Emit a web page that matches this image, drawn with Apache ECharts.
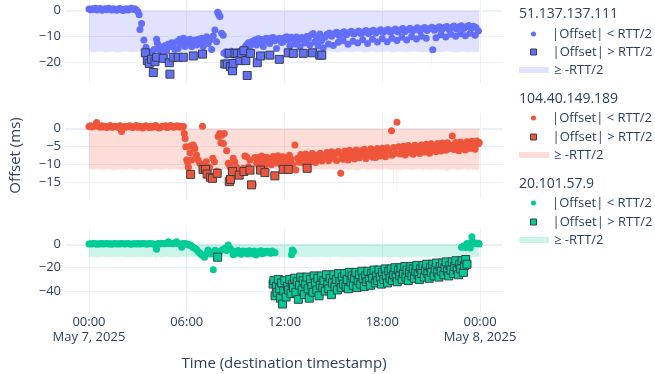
<!DOCTYPE html>
<html><head><meta charset="utf-8">
<script src="https://cdn.jsdelivr.net/npm/echarts@6/dist/echarts.min.js"></script>
<style>html,body{margin:0;padding:0;background:#fff}#c{width:655px;height:374px}</style>
</head><body><div id="c"></div><script>
// ---------- DATA (time in hours since 2025-05-07 00:00, offset in ms) ----------
const hosts = ['51.137.137.111', '104.40.149.189', '20.101.57.9'];
const legendLabels = ['|Offset| < RTT/2', '|Offset| > RTT/2', '\u2265 -RTT/2'];

const host1Inside = [
[0.0,0.6],[0.1,0.4],[0.2,0.7],[0.3,0.5],[0.4,0.9],[0.5,0.3],[0.6,0.6],[0.7,0.8],[0.8,0.2],[0.9,0.5],[1.0,0.7],[1.1,0.4],[1.2,0.9],[1.3,0.6],[1.4,0.3],[1.5,0.7],[1.6,0.5],[1.7,0.2],[1.8,0.6],[1.9,0.8],[2.0,0.4],[2.1,0.1],[2.2,0.5],[2.3,0.7],[2.4,0.3],[2.5,0.6],[2.6,0.9],[2.7,0.5],[2.8,0.7],[2.9,0.4],[3.0,-0.3],[3.08,-1.6],
[3.13,-7.2],[3.23,-4.9],[3.37,-11.3],[3.5,-14.1],[3.58,-15.4],[3.74,-16.4],[3.85,-15.8],[4.0,-14.9],[4.15,-11.0],[4.19,-12.3],[4.3,-13.6],[4.36,-15.1],[4.45,-14.2],[4.56,-15.8],[4.66,-13.5],[4.76,-15.4],[4.86,-12.9],[4.97,-13.8],[5.07,-12.3],[5.17,-12.9],[5.27,-14.8],[5.38,-11.9],[5.48,-14.5],[5.58,-11.0],[5.68,-12.8],[5.79,-10.6],[5.89,-13.8],[5.99,-11.3],[6.09,-12.6],[6.2,-11.0],[6.3,-13.8],[6.4,-11.9],[6.5,-11.3],[6.61,-13.2],[6.71,-11.0],[6.81,-12.3],[6.91,-10.6],[7.01,-13.8],[7.12,-11.5],[7.22,-10.0],[7.32,-12.6],[7.42,-11.3],[7.53,-14.9],[7.63,-9.7],[7.73,-7.4],[7.83,-11.9],[7.9,-0.6],[7.95,-1.2],[8.0,-1.9],[8.04,-2.2],[8.14,-8.7],[8.24,-9.4],
[8.28,-16.4],[8.4,-15.8],[8.45,-17.1],[8.55,-16.0],[8.65,-16.2],[8.75,-15.6],[8.85,-17.1],[8.95,-16.1],[9.05,-15.8],[9.16,-16.7],[9.3,-15.5],[9.47,-15.1],[9.57,-14.0],[9.67,-13.2],[9.78,-12.3],[9.88,-13.6],[9.98,-11.9],[10.08,-12.8],[10.18,-11.3],[10.29,-13.2],[10.39,-10.8],[10.49,-11.0],[10.6,-12.1],[10.7,-13.8],[10.8,-10.9],[10.9,-10.6],[11.0,-11.8],[11.1,-12.6],[11.2,-10.5],[11.31,-10.3],[11.41,-11.6],[11.51,-14.5],[11.61,-10.8],[11.72,-10.6],[11.82,-12.2],[11.92,-11.9],[12.02,-10.4],[12.13,-10.0],[12.23,-11.2],[12.33,-13.5],[12.43,-10.2],[12.54,-10.9],[12.64,-12.8],[12.74,-10.1],[12.84,-11.4],[12.95,-13.9],[13.05,-10.3],[13.15,-11.0],[13.25,-12.4],[13.36,-9.9],[13.46,-10.7],[13.56,-13.2],[13.66,-9.2],[13.76,-8.8],[13.86,-12.0],[13.97,-10.4],[14.07,-13.6],[14.17,-9.0],[14.27,-11.5],[14.38,-14.3],[14.48,-10.2],
[14.6,-9.2],[14.75,-8.6],[14.9,-9.8],[15.05,-8.9],[15.2,-8.3],[15.35,-9.5],[15.5,-8.7],[15.65,-8.1],[15.8,-9.3],[15.95,-8.5],[16.1,-7.9],[16.25,-9.0],[16.4,-8.4],[16.55,-7.8],[16.7,-8.9],[16.85,-8.2],[17.0,-7.6],[17.15,-8.8],[17.3,-8.0],[17.45,-7.5],[17.6,-8.6],[17.75,-7.9],[17.9,-7.3],[18.05,-8.4],[18.2,-7.7],[18.35,-7.2],[18.5,-8.3],[18.65,-7.6],[18.8,-7.0],[18.95,-8.1],[19.1,-7.4],[19.25,-6.9],[19.4,-8.0],[19.55,-7.3],[19.7,-6.8],[19.85,-7.9],[20.0,-7.2],[20.15,-6.6],[20.3,-7.7],[20.45,-7.0],[20.6,-6.5],[20.75,-7.6],[20.9,-6.9],[21.05,-6.4],[21.2,-7.5],[21.35,-6.8],[21.5,-6.2],[21.65,-7.3],[21.8,-6.6],[21.95,-6.1],[22.1,-7.2],[22.25,-6.5],[22.4,-5.9],[22.55,-7.0],[22.7,-6.3],[22.85,-5.8],[23.0,-6.9],[23.15,-6.2],[23.3,-5.7],[23.45,-6.7],[23.6,-6.0],[23.75,-6.5],[23.9,-7.8],
[14.7,-12.8],[15.0,-13.4],[15.3,-12.1],[15.6,-11.5],[15.9,-12.9],[16.2,-11.8],[16.5,-12.4],[16.8,-11.2],[17.1,-12.6],[17.4,-11.0],[17.7,-12.0],[18.0,-10.8],[18.3,-11.9],[18.6,-10.6],[18.9,-11.5],[19.2,-10.2],[19.5,-11.3],[19.8,-10.0],[20.1,-10.9],[20.4,-9.8],[20.7,-10.6],[21.1,-15.0],[21.3,-10.4],[21.6,-9.3],[21.9,-10.1],[22.2,-9.1],[22.5,-9.8],[22.8,-8.9],[23.1,-9.6],[23.4,-8.7],[23.7,-9.4]
];
const host1Outside = [
[3.46,-16.2],[3.58,-19.2],[3.7,-20.3],[3.84,-18.7],[3.95,-23.8],[4.05,-19.6],[4.15,-17.9],[4.56,-18.3],[4.93,-20.0],[4.97,-24.4],[5.17,-17.9],[5.48,-17.9],[5.79,-17.9],[6.4,-17.4],[6.97,-16.7],
[8.34,-20.5],[8.49,-20.5],[8.61,-16.4],[8.69,-21.5],[8.81,-23.1],[8.85,-20.3],[8.96,-16.4],[9.1,-16.4],[9.26,-19.2],[9.37,-16.4],[9.51,-15.4],[9.63,-19.2],[9.71,-24.9],[9.92,-16.4],[10.33,-20.0],[10.53,-17.4],[11.1,-17.1],[11.68,-18.7],[12.23,-16.2],[12.54,-16.4],[13.15,-16.4],[13.72,-16.2],[14.17,-17.1],[14.29,-17.1]
];
const host1Band = [
[0,-15.7],[0.25,-16.0],[0.5,-15.8],[0.75,-15.6],[1,-16.1],[1.25,-15.9],[1.5,-15.7],[1.75,-16.2],[2,-15.8],[2.25,-15.6],[2.5,-15.9],[2.75,-16.0],[3,-15.7],[3.25,-15.9],[3.5,-16.1],[3.75,-15.8],[4,-15.6],[4.25,-16.0],[4.5,-15.9],[4.75,-15.7],[5,-16.2],[5.25,-15.8],[5.5,-15.6],[5.75,-15.9],[6,-16.0],[6.25,-15.7],[6.5,-15.8],[6.75,-16.1],[7,-15.9],[7.25,-15.6],[7.5,-15.8],[7.75,-16.0],[8,-15.7],[8.25,-15.9],[8.5,-16.1],[8.75,-15.8],[9,-15.6],[9.25,-16.0],[9.5,-15.9],[9.75,-15.7],[10,-16.1],[10.25,-15.8],[10.5,-15.6],[10.75,-15.9],[11,-16.0],[11.25,-15.7],[11.5,-15.8],[11.75,-16.2],[12,-15.9],[12.25,-15.7],[12.5,-15.8],[12.75,-16.0],[13,-15.6],[13.25,-15.9],[13.5,-16.1],[13.75,-15.8],[14,-15.7],[14.25,-16.0],[14.5,-15.9],[14.75,-15.6],[15,-15.8],[15.25,-16.1],[15.5,-15.9],[15.75,-15.7],[16,-16.0],[16.25,-15.8],[16.5,-15.6],[16.75,-15.9],[17,-16.1],[17.25,-15.7],[17.5,-15.8],[17.75,-16.0],[18,-15.9],[18.25,-15.6],[18.5,-15.8],[18.75,-16.1],[19,-15.7],[19.25,-15.9],[19.5,-16.0],[19.75,-15.8],[20,-15.6],[20.25,-15.9],[20.5,-16.1],[20.75,-15.8],[20.97,-15.9],[21.0,-22.5],[21.03,-15.8],[21.25,-15.7],[21.5,-16.0],[21.75,-15.9],[22,-15.6],[22.25,-15.8],[22.5,-16.1],[22.75,-15.9],[23,-15.7],[23.25,-16.0],[23.5,-15.8],[23.75,-15.9],[23.95,-16.0]
];

const host2Inside = [
[0.0,0.6],[0.1,0.8],[0.2,0.5],[0.3,0.7],[0.4,1.0],[0.47,1.7],[0.6,0.6],[0.7,0.4],[0.8,0.8],[0.9,0.5],[1.0,0.7],[1.1,0.3],[1.2,0.6],[1.3,0.9],[1.4,0.4],[1.5,0.5],[1.6,0.7],[1.7,0.6],[1.8,0.3],[1.9,0.8],[2.0,-0.8],[2.1,0.5],[2.2,0.6],[2.3,0.4],[2.4,0.7],[2.5,0.8],[2.6,0.5],[2.7,0.3],[2.8,0.6],[2.9,0.9],[3.0,0.4],[3.1,0.7],[3.2,0.5],[3.3,0.2],[3.4,0.6],[3.5,0.8],[3.6,0.5],[3.7,0.3],[3.8,0.7],[3.9,0.4],[4.0,0.6],[4.1,0.9],[4.2,0.5],[4.3,0.2],[4.4,0.4],[4.5,0.7],[4.6,0.6],[4.7,0.8],[4.8,0.3],[4.9,0.5],[5.0,0.9],[5.1,0.7],[5.2,0.4],[5.3,0.6],[5.4,0.8],[5.5,0.5],[5.6,0.7],[5.7,0.4],[5.8,0.6],
[5.85,-1.3],[5.9,-2.7],[5.95,-5.0],[6.0,-8.7],[6.05,-9.3],[6.1,-10.7],[6.2,-6.7],[6.25,-4.8],[6.3,-8.7],[6.4,-4.5],[6.5,-5.5],[6.6,-7.3],[6.7,-8.7],[6.8,-9.6],[6.97,0.7],[7.05,-10.6],[7.2,-9.2],[7.3,-11.2],[7.4,-10.7],[7.6,-8.2],[7.7,-9.2],[7.85,-11.8],[7.93,-2.2],[8.02,-1.3],[8.1,-3.9],[8.15,-1.8],[8.25,-4.1],[8.3,-1.3],[8.45,-6.1],[8.55,-9.6],[8.65,-10.6],[8.85,-8.2],[8.95,-9.2],[9.06,-10.7],[9.26,-11.5],[9.47,-11.0],[9.57,-7.6],[9.67,-7.8],[9.78,-10.6],[9.88,-8.7],[10.08,-15.6],[10.18,-8.0],[10.29,-9.6],
[10.4,-8.0],[10.5,-9.8],[10.6,-7.6],[10.7,-8.9],[10.8,-10.4],[10.9,-7.9],[11.0,-9.1],[11.1,-8.3],[11.2,-10.0],[11.3,-7.7],[11.4,-8.8],[11.5,-9.5],[11.6,-7.5],[11.7,-8.6],[11.8,-10.1],[11.9,-7.8],[12.0,-9.0],[12.1,-8.1],[12.2,-9.7],[12.3,-7.4],[12.4,-8.5],[12.5,-9.9],[12.64,-4.5],[12.7,-11.5],[12.8,-8.2],[12.9,-9.3],[13.0,-7.2],[13.1,-8.4],[13.2,-9.6],[13.3,-7.0],[13.4,-8.7],[13.5,-7.6],[13.6,-9.2],[13.7,-6.9],[13.8,-8.0],[13.9,-9.4],[14.0,-7.3],[14.1,-8.5],[14.2,-6.8],[14.3,-9.0],[14.4,-7.7],[14.5,-8.3],[14.6,-6.6],[14.7,-8.9],[14.8,-7.4],[14.9,-6.4],[15.0,-8.2],[15.1,-7.0],[15.2,-8.8],[15.3,-6.3],[15.45,-12.4],[15.5,-7.6],[15.6,-8.5],[15.7,-6.2],[15.8,-7.3],[15.9,-8.7],[16.0,-6.0],[16.1,-7.8],[16.2,-6.7],[16.3,-8.4],[16.4,-5.9],[16.5,-7.1],[16.6,-8.1],[16.7,-6.1],[16.8,-7.5],[16.9,-5.7],[17.0,-8.3],[17.1,-6.5],[17.2,-7.2],[17.3,-5.6],[17.4,-7.9],[17.5,-6.3],[17.6,-8.0],[17.7,-5.5],[17.8,-6.9],[17.9,-7.6],[18.0,-5.4],[18.1,-6.6],[18.2,-7.8],[18.3,-5.3],[18.4,-6.2],[18.57,-0.6],[18.6,-7.4],[18.7,-5.2],[18.8,-6.8],[18.9,1.8],[19.0,-5.0],[19.1,-7.0],[19.2,-6.0],[19.3,-4.9],[19.4,-7.3],[19.5,-5.6],[19.6,-4.7],[19.7,-6.6],[19.8,-5.3],[19.9,-7.1],[20.0,-4.6],[20.1,-6.3],[20.2,-5.1],[20.3,-6.9],[20.4,-4.5],[20.5,-5.8],[20.6,-6.5],[20.7,-4.3],[20.8,-5.5],[20.9,-6.8],[21.0,-4.2],[21.1,-5.9],[21.2,-4.8],[21.3,-6.4],[21.4,-4.1],[21.5,-5.4],[21.6,-6.2],[21.7,-4.0],[21.8,-5.0],[21.9,-6.0],[22.0,-3.9],[22.1,-5.6],[22.2,-4.6],[22.3,-2.0],[22.4,-5.8],[22.5,-3.8],[22.6,-4.9],[22.7,-6.1],[22.8,-3.7],[22.9,-5.2],[23.0,-4.4],[23.1,-5.9],[23.2,-3.6],[23.3,-4.8],[23.4,-5.5],[23.5,-3.5],[23.6,-4.5],[23.7,-5.7],[23.8,-3.4],[23.9,-4.2],[23.95,-3.8]
];
const host2Outside = [
[6.24,-12.7],[7.0,-11.3],[7.15,-11.3],[7.25,-12.6],[7.45,-13.5],[7.58,-13.8],[7.87,-12.4],[8.61,-14.7],[8.69,-14.1],[8.81,-11.9],[9.22,-12.9],[9.51,-11.9],[9.88,-11.5],[9.98,-15.6],[10.53,-11.5],[10.8,-12.2],[11.41,-13.1],[11.92,-11.3],[12.23,-11.3],[13.39,-11.0]
];
const host2Band = [
[0,-11.2],[0.25,-11.4],[0.5,-11.1],[0.75,-11.5],[1,-11.3],[1.25,-11.2],[1.5,-11.6],[1.75,-11.3],[1.97,-11.2],[2.0,-12.6],[2.03,-11.3],[2.25,-11.4],[2.5,-11.2],[2.75,-11.5],[3,-11.3],[3.25,-11.1],[3.5,-11.4],[3.75,-11.6],[4,-11.2],[4.25,-11.3],[4.5,-11.5],[4.75,-11.2],[5,-11.4],[5.25,-11.1],[5.5,-11.3],[5.75,-11.5],[6,-11.2],[6.25,-11.4],[6.5,-11.3],[6.75,-11.6],[7,-11.2],[7.25,-11.3],[7.5,-11.5],[7.75,-11.1],[8,-11.4],[8.25,-11.3],[8.5,-11.2],[8.75,-11.5],[9,-11.3],[9.25,-11.4],[9.5,-11.2],[9.75,-11.6],[10.12,-11.3],[10.15,-17.0],[10.18,-11.4],[10.5,-11.2],[10.75,-11.5],[11,-11.3],[11.25,-11.1],[11.5,-11.4],[11.75,-11.3],[12,-11.5],[12.25,-11.2],[12.5,-11.4],[12.75,-11.3],[13,-11.6],[13.25,-11.2],[13.5,-11.3],[13.75,-11.5],[14,-11.1],[14.25,-11.4],[14.5,-11.3],[14.75,-11.2],[15,-11.5],[15.25,-11.3],[15.43,-11.4],[15.46,-13.6],[15.49,-11.3],[15.75,-11.2],[16,-11.4],[16.25,-11.3],[16.5,-11.6],[16.75,-11.2],[17,-11.3],[17.25,-11.5],[17.5,-11.1],[17.75,-11.4],[18,-11.3],[18.25,-11.2],[18.5,-11.5],[18.67,-11.3],[18.7,-18.0],[18.73,-11.4],[18.87,-11.2],[18.9,-19.5],[18.93,-11.3],[19.25,-11.4],[19.5,-11.2],[19.75,-11.5],[20,-11.3],[20.25,-11.1],[20.5,-11.4],[20.75,-11.3],[21,-11.5],[21.25,-11.2],[21.5,-11.4],[21.75,-11.3],[22,-11.6],[22.25,-11.2],[22.5,-11.3],[22.75,-11.5],[23,-11.2],[23.25,-11.4],[23.5,-11.3],[23.75,-11.5],[23.95,-11.3]
];

const host3Inside = [
[0.0,0.3],[0.1,0.5],[0.2,0.2],[0.3,0.6],[0.4,0.4],[0.5,0.1],[0.6,0.5],[0.7,0.3],[0.8,0.7],[0.9,0.2],[1.0,0.4],[1.1,0.6],[1.2,0.3],[1.3,0.5],[1.4,0.1],[1.5,0.4],[1.6,0.6],[1.7,0.2],[1.8,0.5],[1.9,0.3],[2.0,0.7],[2.1,0.4],[2.2,0.2],[2.3,0.5],[2.4,0.6],[2.5,0.3],[2.6,0.1],[2.7,0.4],[2.8,0.5],[2.9,0.2],[3.0,0.6],[3.1,0.3],[3.2,0.4],[3.3,0.7],[3.4,0.5],[3.5,0.2],[3.6,0.3],[3.7,0.6],[3.8,0.4],[3.9,0.5],[4.0,0.1],[4.15,-4.2],[4.25,0.6],[4.35,0.3],[4.45,0.8],[4.55,0.5],[4.65,0.4],[4.78,1.2],[4.87,2.3],[4.95,0.6],[5.05,0.9],[5.15,0.4],[5.25,1.2],[5.38,2.3],[5.48,0.7],[5.58,0.3],[5.69,-2.5],[5.75,0.5],
[5.8,0.4],[5.9,0.8],[6.0,0.2],[6.1,-0.5],[6.2,-0.3],[6.3,-1.4],[6.4,-2.8],[6.5,-3.4],[6.6,-4.5],[6.7,-6.2],[6.8,-7.5],[6.9,-9.0],[7.0,-9.8],[7.1,-11.0],[7.2,-8.2],[7.3,-4.8],[7.4,-6.5],[7.5,-8.2],[7.63,-21.7],[7.75,-5.0],[7.85,-7.3],[8.05,-6.2],[8.2,-4.5],[8.35,-3.4],[8.45,-5.3],[8.55,-0.6],[8.65,-3.4],[8.75,-4.8],[8.85,-9.0],[8.95,-6.2],[9.05,-7.6],[9.15,-5.2],[9.25,-6.8],[9.35,-8.5],[9.45,-5.6],[9.55,-7.1],[9.65,-6.0],[9.75,-8.3],[9.85,-5.4],[9.95,-6.9],[10.05,-7.8],[10.15,-5.8],[10.25,-9.2],[10.35,-6.4],[10.45,-7.4],[10.55,-5.5],[10.65,-8.0],[10.75,-6.2],[10.85,-7.0],[10.95,-5.9],[11.05,-6.6],[11.15,-7.7],[11.25,-5.7],[11.35,-6.8],[11.42,-7.2],
[12.43,-9.0],[12.48,-4.8],[12.55,-6.2],
[22.86,-2.5],[23.0,-1.4],[23.1,-2.8],[23.2,0.8],[23.3,-0.8],[23.4,-3.2],[23.45,1.5],[23.5,6.5],[23.55,2.3],[23.6,0.5],[23.7,1.2],[23.8,0.6],[23.9,0.9],[23.95,0.3]
];
const host3Outside = [
[7.9,-11.0],
[11.3,-34],[11.35,-31],[11.42,-44],[11.5,-36],[11.55,-41],[11.62,-30],[11.7,-38],[11.75,-46],[11.82,-33],[11.88,-51],[11.95,-40],[12.02,-31],[12.1,-45],[12.18,-36],[12.25,-39],[12.32,-30],[12.4,-42],[12.48,-34],[12.55,-37],[12.62,-29],[12.7,-41],[12.78,-32],[12.85,-47],[12.92,-35],[13.0,-28],[13.08,-39],[13.15,-31],[13.22,-43],[13.3,-34],[13.38,-28],[13.45,-38],[13.52,-46],[13.6,-30],[13.68,-36],[13.75,-41],[13.82,-27],[13.9,-33],[13.98,-39],[14.05,-29],[14.12,-44],[14.2,-35],[14.28,-27],[14.35,-37],[14.42,-31],[14.5,-40],[14.58,-26],[14.65,-34],[14.72,-38],[14.8,-29],[14.88,-43],[14.95,-33],[15.02,-26],[15.1,-36],[15.18,-30],[15.25,-39],[15.32,-25],[15.4,-32],[15.48,-37],[15.55,-28],[15.62,-34],[15.7,-25],[15.78,-36],[15.85,-30],[15.92,-38],[16.0,-24],[16.08,-32],[16.15,-27],[16.22,-35],[16.3,-29],[16.38,-24],[16.45,-37],[16.52,-31],[16.6,-26],[16.68,-34],[16.75,-23],[16.82,-29],[16.9,-36],[16.98,-27],[17.05,-32],[17.12,-23],[17.2,-30],[17.28,-35],[17.35,-25],[17.42,-29],[17.5,-22],[17.58,-33],[17.65,-27],[17.72,-31],[17.8,-22],[17.88,-28],[17.95,-34],[18.02,-24],[18.1,-30],[18.18,-21],[18.25,-27],[18.32,-33],[18.4,-23],[18.48,-29],[18.55,-21],[18.62,-31],[18.7,-26],[18.78,-20],[18.85,-28],[18.92,-32],[19.0,-22],[19.08,-27],[19.15,-20],[19.22,-30],[19.3,-25],[19.38,-19],[19.45,-28],[19.52,-22],[19.6,-31],[19.68,-24],[19.75,-19],[19.82,-27],[19.9,-21],[19.98,-29],[20.05,-23],[20.12,-18],[20.2,-26],[20.28,-30],[20.35,-21],[20.42,-25],[20.5,-18],[20.58,-28],[20.65,-22],[20.72,-17],[20.8,-25],[20.88,-29],[20.95,-20],[21.02,-24],[21.1,-17],[21.18,-27],[21.25,-21],[21.32,-16],[21.4,-24],[21.48,-28],[21.55,-19],[21.62,-23],[21.7,-16],[21.78,-26],[21.85,-20],[21.92,-15],[22.0,-23],[22.08,-27],[22.15,-18],[22.22,-22],[22.3,-15],[22.38,-25],[22.45,-19],[22.52,-14],[22.6,-22],[22.68,-26],[22.75,-17],[22.82,-21],[22.9,-14],[22.98,-24],[23.05,-18],[23.12,-13],[23.2,-17]
];
const host3Band = [
[0,-10.8],[0.25,-10.6],[0.5,-11.0],[0.75,-10.7],[1,-10.9],[1.25,-10.6],[1.5,-11.1],[1.75,-10.8],[2,-10.7],[2.25,-11.0],[2.5,-10.6],[2.75,-10.9],[3,-10.8],[3.25,-11.1],[3.5,-10.7],[3.75,-10.9],[4.12,-10.8],[4.15,-14.5],[4.18,-10.7],[4.5,-11.0],[4.75,-10.6],[5,-10.9],[5.25,-10.8],[5.5,-11.1],[5.75,-10.7],[6,-10.9],[6.25,-10.6],[6.5,-11.0],[6.75,-10.8],[7,-10.7],[7.25,-11.1],[7.57,-10.8],[7.6,-26.0],[7.63,-10.9],[7.75,-10.7],[8,-11.0],[8.25,-10.6],[8.5,-10.9],[8.75,-10.8],[9,-11.1],[9.25,-10.7],[9.5,-10.9],[9.75,-10.6],[10,-11.0],[10.25,-10.8],[10.5,-10.7],[10.75,-11.1],[11,-10.9],[11.25,-10.6],[11.5,-10.8],[11.67,-10.9],[11.7,-14.0],[11.73,-10.8],[12,-11.0],[12.25,-10.7],[12.5,-10.9],[12.75,-10.6],[13,-11.1],[13.25,-10.8],[13.5,-10.7],[13.75,-11.0],[14,-10.9],[14.25,-10.6],[14.5,-10.8],[14.77,-11.0],[14.8,-21.5],[14.83,-10.7],[15,-10.9],[15.25,-10.6],[15.5,-11.1],[15.75,-10.8],[16,-10.7],[16.25,-11.0],[16.5,-10.9],[16.75,-10.6],[17,-10.8],[17.25,-11.1],[17.5,-10.7],[17.75,-10.9],[18,-10.8],[18.25,-10.6],[18.5,-11.0],[18.75,-10.7],[19,-10.9],[19.25,-11.1],[19.5,-10.8],[19.75,-10.6],[20,-10.9],[20.25,-10.7],[20.5,-11.0],[20.75,-10.8],[21,-10.6],[21.25,-10.9],[21.5,-11.1],[21.75,-10.7],[22,-10.8],[22.25,-11.0],[22.5,-10.6],[22.75,-10.9],[23,-10.8],[23.37,-10.7],[23.4,-14.5],[23.43,-10.9],[23.75,-10.8],[23.95,-10.7]
];

// ---------- CHART ----------
const insideSets = [host1Inside, host2Inside, host3Inside];
const outsideSets = [host1Outside, host2Outside, host3Outside];
const bandSets = [host1Band, host2Band, host3Band];
const colors = ['#636efa', '#EF553B', '#00cc96'];
const bandColors = ['rgba(99,110,250,0.2)', 'rgba(239,85,59,0.2)', 'rgba(0,204,150,0.2)'];
const yRanges = [[-27.8, 4.1, 3], [-19.25, 4.36, 4], [-58.7, 13.1, 4]];
const gridTops = [0, 113, 229];
const gridHeights = [83, 85, 84];
const legendTitleY = [16, 101, 186];
const legendItemY = [[34, 52, 70], [118, 137, 155], [203, 222, 240]];

const HOUR = 3600000;
const base = new Date(2025, 4, 7, 0, 0, 0).getTime();
const toPts = arr => arr.map(p => [base + Math.round(p[0] * HOUR), p[1]]);
const xMin = base - 1.47 * HOUR, xMax = base + 25.41 * HOUR;
const font = '"Open Sans", "Noto Sans", sans-serif';
const txt = '#2a3f5f';
const grid = '#ebf0f8';
const months = ['Jan','Feb','Mar','Apr','May','Jun','Jul','Aug','Sep','Oct','Nov','Dec'];
const pad2 = n => String(n).padStart(2, '0');
const minus = v => v < 0 ? '\u2212' + Math.abs(v) : String(v);

const nameMap = {};
const series = [], legends = [], titles = [], grids = [], xAxes = [], yAxes = [];
for (let i = 0; i < 3; i++) {
  grids.push({ left: 65, right: 152, top: gridTops[i], height: gridHeights[i] });
  xAxes.push({
    type: 'time', gridIndex: i, min: xMin, max: xMax, splitNumber: 3,
    axisLine: { show: false }, axisTick: { show: false },
    splitLine: { show: true, showMinLine: false, showMaxLine: false, lineStyle: { color: grid, width: 1 } },
    axisLabel: {
      show: i === 2, showMinLabel: false, showMaxLabel: false, margin: 2, hideOverlap: false,
      color: txt, fontFamily: font, fontSize: 13, lineHeight: 15, align: 'center',
      formatter: v => { const d = new Date(v); const s = pad2(d.getHours()) + ':' + pad2(d.getMinutes());
        return (d.getHours() === 0 && d.getMinutes() === 0) ? s + '\n' + months[d.getMonth()] + ' ' + d.getDate() + ', ' + d.getFullYear() : s; }
    },
    name: i === 2 ? 'Time (destination timestamp)' : '', nameLocation: 'middle', nameGap: 43,
    nameTextStyle: { color: txt, fontFamily: font, fontSize: 15 }
  });
  yAxes.push({
    type: 'value', gridIndex: i, min: yRanges[i][0], max: yRanges[i][1], splitNumber: yRanges[i][2],
    axisLine: { show: false }, axisTick: { show: false },
    splitLine: { show: true, showMinLine: false, showMaxLine: false, lineStyle: { color: grid, width: 1 } },
    axisLabel: { showMinLabel: false, showMaxLabel: false, margin: 4, color: txt, fontFamily: font, fontSize: 13, formatter: minus },
    name: i === 1 ? 'Offset (ms)' : '', nameLocation: 'middle', nameGap: 42,
    nameTextStyle: { color: txt, fontFamily: font, fontSize: 15 }
  });
  const nIn = hosts[i] + ' in', nOut = hosts[i] + ' out', nBand = hosts[i] + ' band';
  nameMap[nIn] = legendLabels[0]; nameMap[nOut] = legendLabels[1]; nameMap[nBand] = legendLabels[2];
  series.push({
    name: nBand, type: 'line', xAxisIndex: i, yAxisIndex: i, data: toPts(bandSets[i]),
    showSymbol: false, symbol: 'none', lineStyle: { width: 0, color: bandColors[i] },
    itemStyle: { color: bandColors[i] }, areaStyle: { color: bandColors[i], opacity: 1 },
    silent: true, z: 1,
    markLine: { silent: true, symbol: 'none', label: { show: false }, lineStyle: { color: grid, width: 2, type: 'solid' }, data: [{ yAxis: 0 }], z: 0 }
  });
  series.push({
    name: nIn, type: 'scatter', xAxisIndex: i, yAxisIndex: i, data: toPts(insideSets[i]),
    symbol: 'circle', symbolSize: 7, itemStyle: { color: colors[i], opacity: 1 }, z: 3, silent: true
  });
  series.push({
    name: nOut, type: 'scatter', xAxisIndex: i, yAxisIndex: i, data: toPts(outsideSets[i]),
    symbol: 'rect', symbolSize: 8, itemStyle: { color: colors[i], borderColor: '#35424a', borderWidth: 1, opacity: 1 }, z: 4, silent: true
  });
  titles.push({ text: hosts[i], left: 519, top: legendTitleY[i] - 9, padding: 0,
    textStyle: { color: txt, fontFamily: font, fontSize: 14, fontWeight: 'normal' } });
  const ts = { color: txt, fontFamily: font, fontSize: 13, lineHeight: 16, rich: { sp: { width: 11 } } };
  const common = { orient: 'vertical', padding: 0, selectedMode: false, textStyle: ts };
  legends.push(Object.assign({}, common, { left: 531, top: legendItemY[i][0] - 8, itemWidth: 5, itemHeight: 5,
    formatter: n => '{sp|}' + nameMap[n], data: [{ name: nIn, icon: 'circle', itemStyle: { color: colors[i] } }] }));
  legends.push(Object.assign({}, common, { left: 530, top: legendItemY[i][1] - 8, itemWidth: 6, itemHeight: 6,
    formatter: n => '{sp|}' + nameMap[n], data: [{ name: nOut, icon: 'rect', itemStyle: { color: colors[i], borderColor: '#35424a', borderWidth: 1 } }] }));
  legends.push(Object.assign({}, common, { left: 519, top: legendItemY[i][2] - 8, itemWidth: 30, itemHeight: 6,
    formatter: n => nameMap[n], data: [{ name: nBand, icon: 'rect', itemStyle: { color: bandColors[i], borderWidth: 0 } }] }));
}

const chart = echarts.init(document.getElementById('c'), null, { renderer: 'canvas' });
chart.setOption({
  animation: false, backgroundColor: '#fff',
  title: titles, legend: legends, grid: grids, xAxis: xAxes, yAxis: yAxes, series: series
});
</script></body></html>
